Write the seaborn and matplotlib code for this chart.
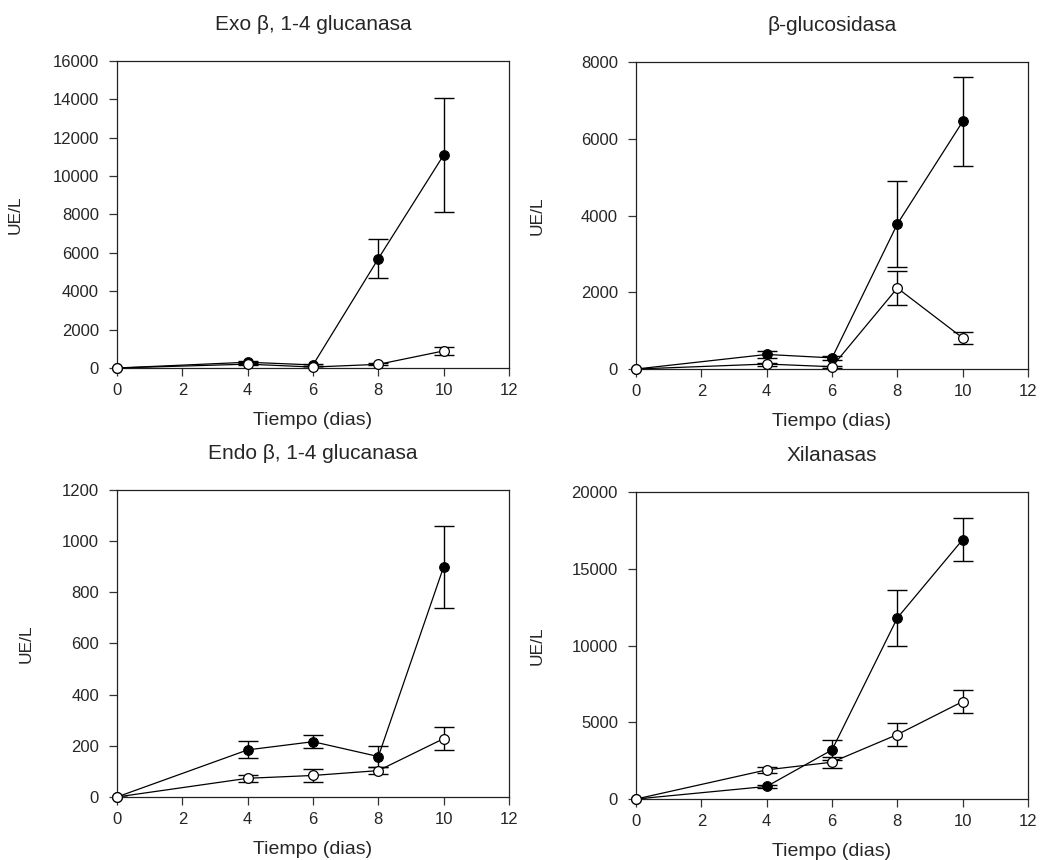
import matplotlib
matplotlib.use('Agg')
import matplotlib.pyplot as plt
import seaborn as sns
import pandas as pd
import numpy as np

sns.set_style('white')
plt.rcParams['font.family'] = ['Liberation Sans', 'DejaVu Sans']

dias = [0, 4, 6, 8, 10]

# Exo beta 1-4 glucanasa
exo_filled = [0, 300, 160, 5700, 11100]
exo_filled_err = [0, 80, 60, 1000, 2950]
exo_open = [0, 200, 50, 190, 890]
exo_open_err = [0, 60, 40, 60, 210]

# beta-glucosidasa
glu_filled = [0, 380, 290, 3780, 6450]
glu_filled_err = [0, 80, 60, 1120, 1170]
glu_open = [0, 130, 60, 2110, 810]
glu_open_err = [0, 40, 30, 440, 160]

# Endo beta 1-4 glucanasa
endo_filled = [0, 184, 216, 158, 900]
endo_filled_err = [0, 33, 26, 40, 160]
endo_open = [0, 73, 84, 103, 228]
endo_open_err = [0, 14, 24, 15, 45]

# Xilanasas
xil_filled = [0, 820, 3200, 11800, 16900]
xil_filled_err = [0, 100, 650, 1800, 1400]
xil_open = [0, 1900, 2400, 4200, 6350]
xil_open_err = [0, 200, 350, 750, 750]

# title, data, yticks, axes origin, ylabel x (axes fraction)
panels = [
    ('Exo β, 1-4 glucanasa', exo_filled, exo_filled_err, exo_open, exo_open_err,
     np.arange(0, 16001, 2000), [0.1123, 0.5721], -0.242),
    ('β-glucosidasa', glu_filled, glu_filled_err, glu_open, glu_open_err,
     np.arange(0, 8001, 2000), [0.6104, 0.5709], -0.232),
    ('Endo β, 1-4 glucanasa', endo_filled, endo_filled_err, endo_open, endo_open_err,
     np.arange(0, 1201, 200), [0.1123, 0.0733], -0.214),
    ('Xilanasas', xil_filled, xil_filled_err, xil_open, xil_open_err,
     np.arange(0, 20001, 5000), [0.6104, 0.0709], -0.232),
]

fig = plt.figure(figsize=(10.42, 8.6), dpi=100)

for title, yf, ef, yo, eo, yticks, pos, ylx in panels:
    ax = fig.add_axes([pos[0], pos[1], 0.3762, 0.357])
    df = pd.DataFrame({'dias': dias, 'filled': yf, 'open': yo})

    ax.errorbar(dias, yf, yerr=ef, fmt='none', ecolor='black',
                elinewidth=1, capsize=7, capthick=1, zorder=2)
    ax.errorbar(dias, yo, yerr=eo, fmt='none', ecolor='black',
                elinewidth=1, capsize=7, capthick=1, zorder=2)

    sns.lineplot(data=df, x='dias', y='filled', ax=ax, color='black',
                 linewidth=0.9, marker='o', markersize=7,
                 markerfacecolor='black', markeredgecolor='black',
                 zorder=3, clip_on=False)
    sns.lineplot(data=df, x='dias', y='open', ax=ax, color='black',
                 linewidth=0.9, marker='o', markersize=7,
                 markerfacecolor='white', markeredgecolor='black',
                 markeredgewidth=0.9, zorder=4, clip_on=False)

    ax.set_xlim(0, 12)
    ax.set_ylim(yticks[0], yticks[-1])
    ax.set_xticks(np.arange(0, 13, 2))
    ax.set_yticks(yticks)
    ax.tick_params(axis='both', direction='out', length=6, width=0.9,
                   labelsize=12, color='#333333', pad=7,
                   left=True, bottom=True, top=False, right=False)
    ax.tick_params(axis='x', pad=5)
    for s in ax.spines.values():
        s.set_color('#222222')
        s.set_linewidth(0.9)
        s.set_visible(True)

    ax.set_title(title, fontsize=15, pad=22)
    ax.set_xlabel('Tiempo (dias)', fontsize=14)
    ax.set_ylabel('UE/L', fontsize=12.5)
    ax.xaxis.set_label_coords(0.5, -0.143)
    ax.yaxis.set_label_coords(ylx, 0.5)

fig.savefig('out.png', dpi=100)
